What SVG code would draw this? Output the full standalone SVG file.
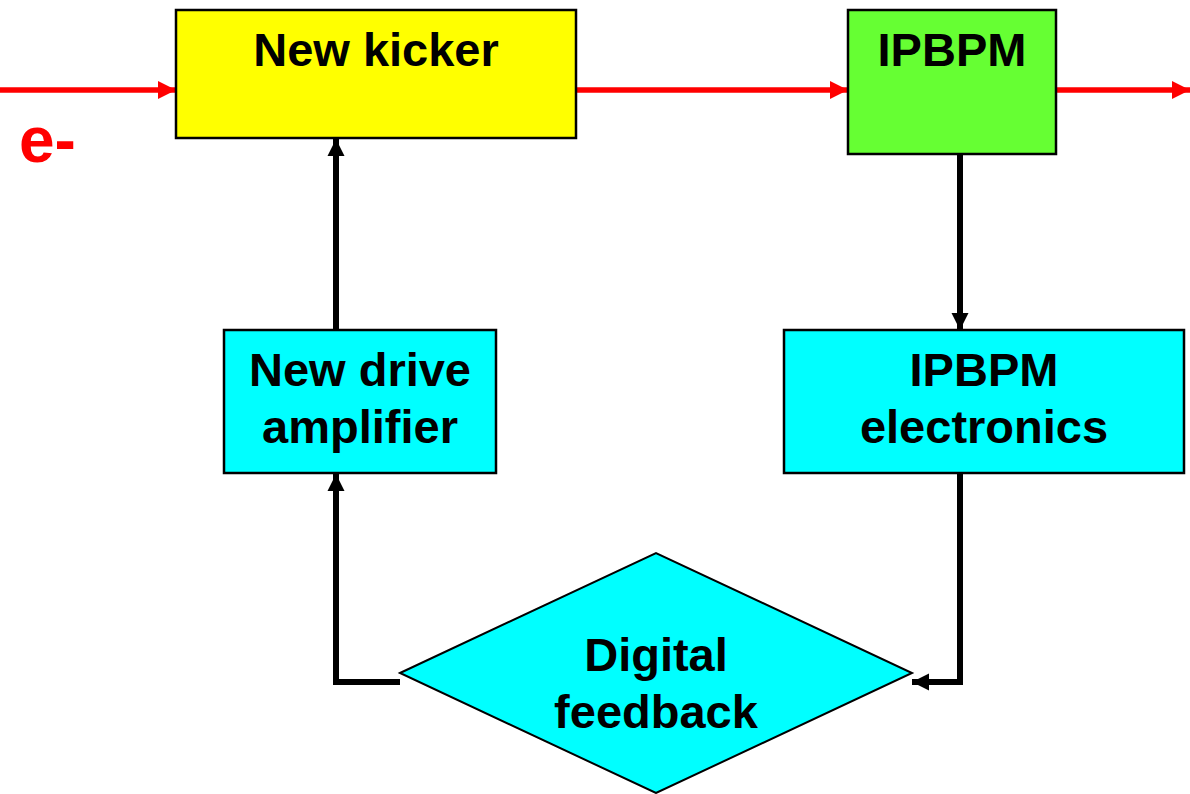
<svg xmlns="http://www.w3.org/2000/svg" width="1190" height="794" viewBox="0 0 1190 794">
<style>
.box{stroke:#000;stroke-width:2.5}
.lbl{font-family:"Liberation Sans",Arial,sans-serif;font-weight:bold;font-size:47px;fill:#000;text-anchor:middle}
.beam{stroke:#FF0000;stroke-width:5.5;fill:none}
.sig{stroke:#000;stroke-width:6;fill:none}
</style>
<defs>
<marker id="ar" markerUnits="userSpaceOnUse" markerWidth="18" markerHeight="18" refX="18" refY="9" orient="auto">
<path d="M0,0 L18,9 L0,18 z" fill="#FF0000"/>
</marker>
<marker id="ab" markerUnits="userSpaceOnUse" markerWidth="18" markerHeight="18" refX="17" refY="9" orient="auto">
<path d="M0,0.5 L17,9 L0,17.5 z" fill="#000"/>
</marker>
</defs>
<rect width="1190" height="794" fill="#fff"/>
<g id="connectors">
<line class="beam" x1="0" y1="90" x2="176" y2="90" marker-end="url(#ar)"/>
<line class="beam" x1="577" y1="90" x2="848" y2="90" marker-end="url(#ar)"/>
<line class="beam" x1="1057" y1="90" x2="1190" y2="90" marker-end="url(#ar)"/>
<line class="sig" x1="336" y1="330" x2="336" y2="139" marker-end="url(#ab)"/>
<line class="sig" x1="960" y1="155" x2="960" y2="330" marker-end="url(#ab)"/>
<polyline class="sig" points="400,682 336,682 336,474" marker-end="url(#ab)"/>
<polyline class="sig" points="960,474 960,682 912,682" marker-end="url(#ab)"/>
</g>
<g id="new-kicker">
<rect class="box" x="176" y="10" width="400" height="128" fill="#FFFF00"/>
<text class="lbl" x="376" y="66">New kicker</text>
</g>
<g id="ipbpm">
<rect class="box" x="848" y="10" width="208" height="144" fill="#66FF33"/>
<text class="lbl" x="952" y="66">IPBPM</text>
</g>
<g id="drive-amp">
<rect class="box" x="224" y="330" width="272" height="143" fill="#00FFFF"/>
<text class="lbl" x="360" y="386">New drive</text>
<text class="lbl" x="360" y="443">amplifier</text>
</g>
<g id="ipbpm-electronics">
<rect class="box" x="784" y="330" width="400" height="143" fill="#00FFFF"/>
<text class="lbl" x="984" y="386">IPBPM</text>
<text class="lbl" x="984" y="443">electronics</text>
</g>
<g id="digital-feedback">
<polygon points="400,673 656,553 912,673 656,793" fill="#00FFFF" stroke="#000" stroke-width="2"/>
<text class="lbl" x="656" y="671">Digital</text>
<text class="lbl" x="656" y="728">feedback</text>
</g>
<g id="beam-label">
<text x="19" y="162" font-family="'Liberation Sans',Arial,sans-serif" font-weight="bold" font-size="64" fill="#FF0000">e-</text>
</g>
</svg>
